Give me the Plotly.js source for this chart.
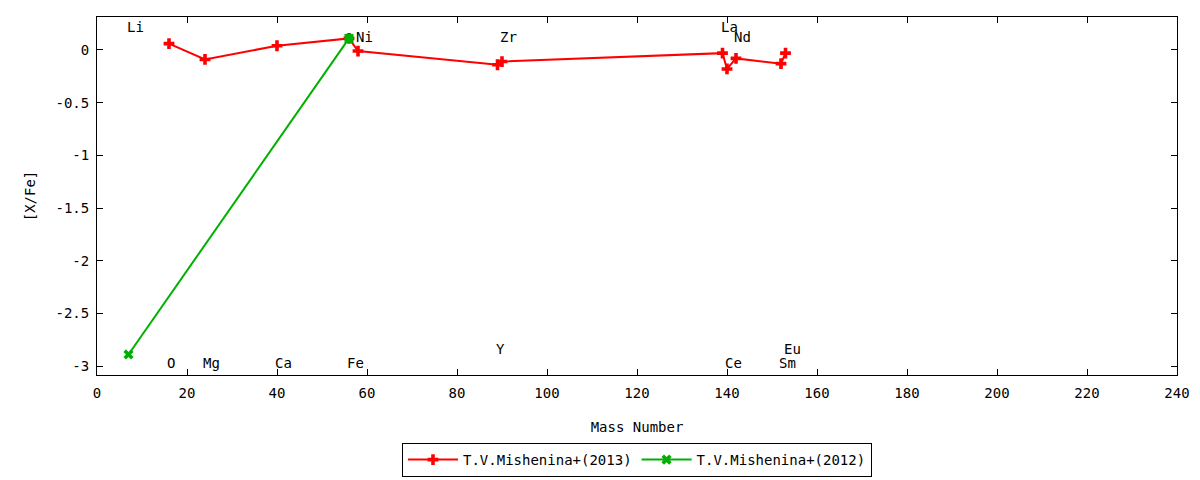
<!DOCTYPE html>
<html>
<head>
<meta charset="utf-8">
<script src="https://cdn.plot.ly/plotly-3.0.1.min.js"></script>
<style>
  html, body { margin: 0; padding: 0; background: #fff; }
  #myDiv { width: 1200px; height: 480px; }
</style>
</head>
<body>
<div id="myDiv"></div>
<script>
  // T.V.Mishenina+(2013)
  var massA = [16, 24, 40, 56, 58, 89, 90, 139, 140, 142, 152, 153];
  var xfeA = [0.06, -0.09, 0.04, 0.11, -0.01, -0.14, -0.11, -0.03, -0.18, -0.08, -0.13, -0.03];

  // T.V.Mishenina+(2012)
  var massB = [7, 56];
  var xfeB = [-2.89, 0.11];

  // element labels
  var elemNames = ['Li', 'O', 'Mg', 'Ca', 'Fe', 'Ni', 'Y', 'Zr', 'La', 'Ce', 'Nd', 'Sm', 'Eu'];
  var elemMass = [7, 16, 24, 40, 56, 58, 89, 90, 139, 140, 142, 152, 153];
  var elemLabelY = [0.22, -2.97, -2.97, -2.97, -2.97, 0.12, -2.84, 0.12, 0.22, -2.97, 0.12, -2.97, -2.84];

  var xTicks = [0, 20, 40, 60, 80, 100, 120, 140, 160, 180, 200, 220, 240];
  var yTicks = [0, -0.5, -1, -1.5, -2, -2.5, -3];
  var yTickText = ['0', '-0.5', '-1', '-1.5', '-2', '-2.5', '-3'];

  var font = "'DejaVu Sans Mono', monospace";

  var trace2013 = {
    x: massA,
    y: xfeA,
    mode: 'lines+markers',
    name: 'T.V.Mishenina+(2013)',
    line: { color: '#ff0000', width: 2 },
    marker: { symbol: 'cross', size: 9, color: '#ff0000' }
  };

  var trace2012 = {
    x: massB,
    y: xfeB,
    mode: 'lines+markers',
    name: 'T.V.Mishenina+(2012)',
    line: { color: '#00b000', width: 2 },
    marker: { symbol: ['x', 'square'], size: 9, color: '#00b000' }
  };

  var data = [trace2013, trace2012];

  var annotations = elemNames.map(function (name, i) {
    return {
      x: elemMass[i],
      y: elemLabelY[i],
      xref: 'x',
      yref: 'y',
      text: name,
      showarrow: false,
      xanchor: 'left',
      yanchor: 'middle',
      xshift: -4,
      font: { family: font, size: 14, color: '#000' }
    };
  });

  var layout = {
    width: 1200,
    height: 480,
    margin: { l: 97, r: 23, t: 17, b: 105, autoexpand: false },
    paper_bgcolor: '#fff',
    plot_bgcolor: '#fff',
    font: { family: font, size: 14, color: '#000' },
    showlegend: true,
    legend: {
      orientation: 'h',
      x: 0.5,
      xanchor: 'center',
      y: -0.19,
      yanchor: 'top',
      bordercolor: '#000',
      borderwidth: 1,
      itemwidth: 50,
      font: { family: font, size: 14, color: '#000' }
    },
    xaxis: {
      range: [0, 240],
      tickvals: xTicks,
      ticks: 'inside',
      ticklen: 6,
      tickcolor: '#000',
      showline: true,
      linecolor: '#000',
      linewidth: 1,
      mirror: 'ticks',
      showgrid: false,
      zeroline: false,
      ticklabelstandoff: 5,
      tickfont: { family: font, size: 14 },
      title: { text: 'Mass Number', font: { family: font, size: 14 }, standoff: 22 }
    },
    yaxis: {
      range: [-3.085, 0.313],
      tickvals: yTicks,
      ticktext: yTickText,
      ticks: 'inside',
      ticklen: 6,
      tickcolor: '#000',
      showline: true,
      linecolor: '#000',
      linewidth: 1,
      mirror: 'ticks',
      showgrid: false,
      zeroline: false,
      ticklabelstandoff: 4,
      tickfont: { family: font, size: 14 },
      title: { text: '[X/Fe]', font: { family: font, size: 14 }, standoff: 16 }
    },
    annotations: annotations
  };

  Plotly.newPlot('myDiv', data, layout, { displayModeBar: false, staticPlot: true });
</script>
</body>
</html>
